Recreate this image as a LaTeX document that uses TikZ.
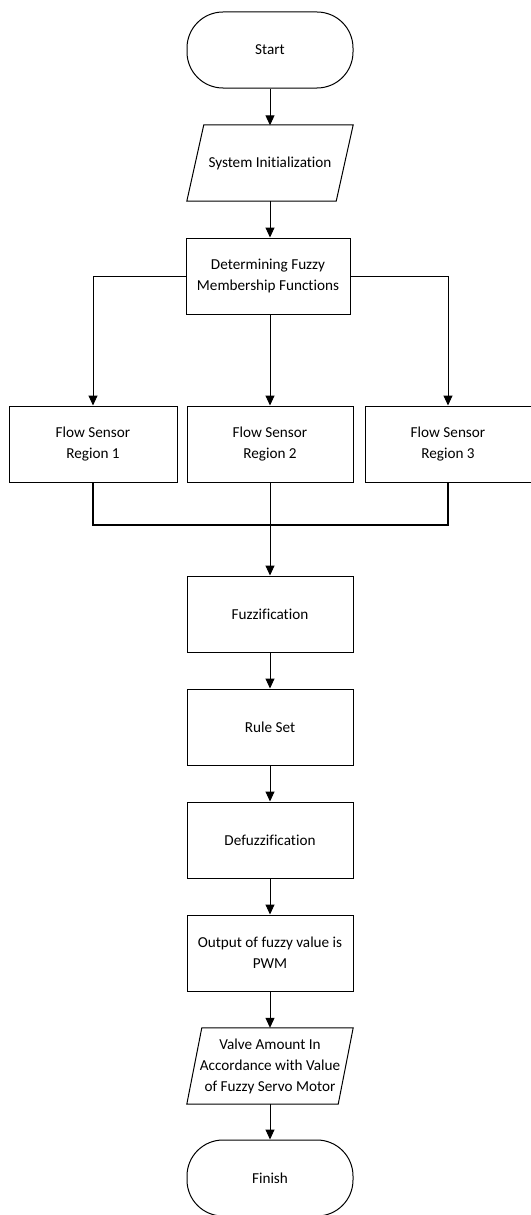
\documentclass[tikz,border=0pt]{standalone}
\usepackage{fontspec}
\setmainfont[Ligatures=NoCommon]{Carlito}
\usetikzlibrary{arrows.meta}
\begin{document}
\begin{tikzpicture}[x=1pt,y=-1pt,
  every node/.style={font=\fontsize{15.2}{21}\selectfont, align=center, inner sep=0pt},
  procbox/.style={draw, line width=1pt, minimum width=166pt, minimum height=76pt},
  termbox/.style={draw, line width=1pt, rounded corners=36pt, minimum width=166pt, minimum height=76pt},
  iobox/.style={minimum width=166pt, minimum height=76pt},
  arr/.style={line width=1pt, -{Triangle[length=10pt,width=9pt]}},
  thickline/.style={line width=2pt},
]
\useasboundingbox (0,0) rectangle (530,1215);

\node[termbox] (start) at (270,50) {Start};
\node[iobox] (init) at (270,163) {System Initialization};
\draw[line width=1pt] ([xshift=17pt]init.north west) -- (init.north east) -- ([xshift=-17pt]init.south east) -- (init.south west) -- cycle;
\node[procbox, minimum width=164pt] (det) at (268,276) {Determining Fuzzy\\Membership Functions};

\node[procbox, minimum width=168pt] (fs1) at (93,444) {Flow Sensor\\Region 1};
\node[procbox] (fs2) at (270,444) {Flow Sensor\\Region 2};
\node[procbox] (fs3) at (448,444) {Flow Sensor\\Region 3};
\coordinate (m1) at (93,525);
\coordinate (m3) at (448,525);

\node[procbox] (fuzz) at (270,614) {Fuzzification};
\node[procbox] (rule) at (270,727) {Rule Set};
\node[procbox] (defuzz) at (270,840) {Defuzzification};
\node[procbox] (out) at (270,953) {Output of fuzzy value is\\PWM};
\node[iobox] (valve) at (270,1066) {Valve Amount In\\Accordance with Value\\of Fuzzy Servo Motor};
\draw[line width=1pt] ([xshift=15pt]valve.north west) -- (valve.north east) -- ([xshift=-15pt]valve.south east) -- (valve.south west) -- cycle;
\node[termbox] (finish) at (270,1178) {Finish};

\draw[arr] (start.south) -- ([yshift=-0.5pt]init.north -| start.south);
\draw[arr] (init.south -| start.south) -- (det.north -| start.south);
\draw[arr] (det.west) -| (fs1.north);
\draw[arr] (det.east) -| (fs3.north);
\draw[arr] (det.south -| fs2.north) -- (fs2.north);
\draw[thickline] (fs1.south) -- (m1) -- (m3) -- (fs3.south);
\draw[arr] (fs2.south) -- (fuzz.north);
\draw[arr] (fuzz.south) -- (rule.north);
\draw[arr] (rule.south) -- (defuzz.north);
\draw[arr] (defuzz.south) -- (out.north);
\draw[arr] (out.south) -- (valve.north);
\draw[arr] (valve.south) -- (finish.north);
\end{tikzpicture}
\end{document}
